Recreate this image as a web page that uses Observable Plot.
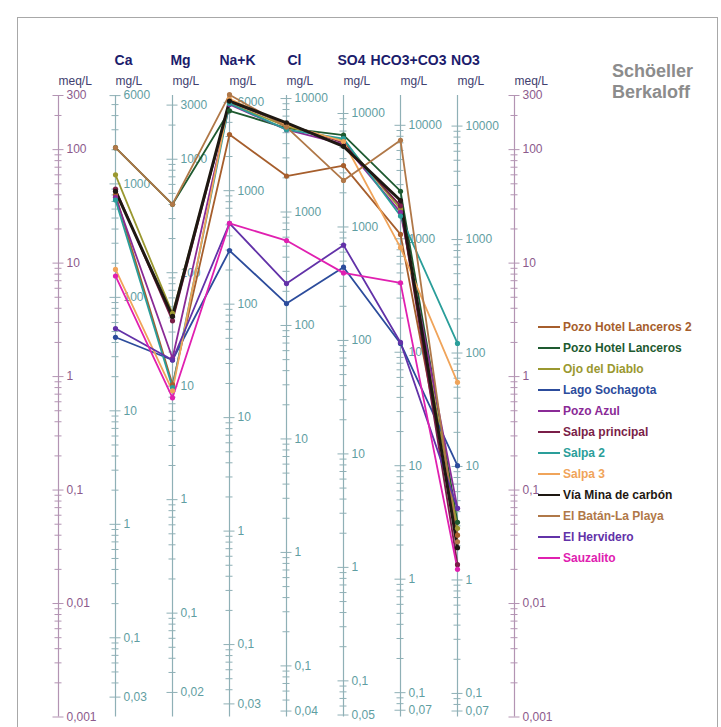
<!DOCTYPE html>
<html><head><meta charset="utf-8">
<script src="https://cdn.jsdelivr.net/npm/d3@7"></script>
<script src="https://cdn.jsdelivr.net/npm/@observablehq/plot@0.6"></script>
<style>
body{margin:0;background:#fff;font-family:"Liberation Sans",Arial,sans-serif;}
#wrap{position:relative;width:721px;height:727px;overflow:hidden;background:#fff;}
#frame{position:absolute;left:17px;top:17px;width:701px;height:730px;border:1px solid #a8a8a8;box-sizing:border-box;}
#chart{position:absolute;left:0;top:0;}
#title{position:absolute;left:612px;top:61px;font-weight:bold;font-size:18px;color:#8c8c8c;line-height:21px;}
#legend{position:absolute;left:538px;top:316px;}
.row{height:21px;display:flex;align-items:center;font-weight:bold;font-size:12px;white-space:nowrap;}
.sw{width:22px;height:2px;margin-right:3px;}
</style></head>
<body><div id="wrap"><div id="frame"></div><div id="chart"></div><div id="title">Schöeller<br>Berkaloff</div><div id="legend"></div></div>
<script>
// Ion columns and their equivalent weights (mg per meq)
const ions = ["Ca","Mg","Na+K","Cl","SO4","HCO3+CO3","NO3"];
const eqWeight = [20.04, 12.15, 23.0, 35.45, 48.03, 61.02, 62.0];
const topLabel = [6000, 3000, 6000, 10000, 10000, 10000, 10000];
const bottomLabel = [0.03, 0.02, 0.03, 0.04, 0.05, 0.07, 0.07];
const meqLabels = [300, 100, 10, 1, 0.1, 0.01, 0.001];

const samples = ["Pozo Hotel Lanceros 2","Pozo Hotel Lanceros","Ojo del Diablo","Lago Sochagota","Pozo Azul","Salpa principal","Salpa 2","Salpa 3","Vía Mina de carbón","El Batán-La Playa","El Hervidero","Sauzalito"];
const colors = ["#a65e2c","#1e5a30","#9a9830","#2c4c9c","#8a2a96","#7a1e48","#2a9e9a","#f0a45a","#1e1812","#b07848","#6232a8","#e020b0"];

// values in meq/L, order: Ca, Mg, Na+K, Cl, SO4, HCO3+CO3, NO3
const pozoHotelLanceros2 = [40, 0.85, 136, 58.5, 72.4, 17.9, 0.040];
const pozoHotelLanceros  = [104, 33, 220, 155, 134, 43, 0.052];
const ojoDelDiablo       = [60, 3.6, 255, 160, 120, 30, 0.046];
const lagoSochagota      = [2.22, 1.4, 12.9, 4.4, 9.2, 1.96, 0.164];
const pozoAzul           = [38, 1.45, 250, 150, 112, 28, 0.069];
const salpaPrincipal     = [45, 3.1, 265, 168, 115, 32, 0.022];
const salpa2             = [36, 0.8, 255, 150, 125, 26, 1.96];
const salpa3             = [8.8, 0.75, 280, 165, 118, 13.7, 0.89];
const viaMinaCarbon      = [43, 3.4, 268, 172, 107, 35.6, 0.031];
const elBatanLaPlaya     = [104, 33, 305, 158, 53.5, 121, 0.035];
const elHervidero        = [2.65, 1.4, 22.4, 6.6, 14.4, 2.0, 0.069];
const sauzalito          = [7.7, 0.65, 22.4, 15.8, 8.2, 6.7, 0.020];

const series = [pozoHotelLanceros2, pozoHotelLanceros, ojoDelDiablo, lagoSochagota, pozoAzul, salpaPrincipal, salpa2, salpa3, viaMinaCarbon, elBatanLaPlaya, elHervidero, sauzalito];

const columns = ["meqL", ...ions, "meqR"];
const fmt = v => String(v).replace(".", ",");
const clean = v => +v.toPrecision(6);

// build tick tables
const ionTicks = [], ionLabels = [], meqTicks = [], meqTickLabels = [];
ions.forEach((ion, i) => {
  for (let k = -3; k <= 4; k++) for (let m = 1; m <= 9; m++) {
    const v = clean(m * 10 ** k), meq = v / eqWeight[i];
    if (meq < 0.001 * 0.999 || meq > 300 * 1.001) continue;
    const labeled = m === 1 || v === topLabel[i] || v === bottomLabel[i];
    ionTicks.push({col: ion, meq, major: labeled});
    if (labeled) ionLabels.push({col: ion, meq, text: fmt(v)});
  }
});
["meqL","meqR"].forEach(col => {
  for (let k = -3; k <= 2; k++) for (let m = 1; m <= 9; m++) {
    const v = clean(m * 10 ** k);
    if (v > 300) continue;
    const labeled = meqLabels.includes(v);
    meqTicks.push({col, meq: v, major: labeled});
    if (labeled) meqTickLabels.push({col, meq: v, text: fmt(v)});
  }
});

const long = [];
samples.forEach((s, j) => ions.forEach((ion, i) => long.push({sample: s, ion, meq: series[j][i]})));
const thin = long.filter(d => d.sample !== "Vía Mina de carbón");
const thick = long.filter(d => d.sample === "Vía Mina de carbón");

const ionColor = "#8fb0b6", meqColor = "#b394b3";
const tickMark = (data, stroke, half) => Plot.ruleY(data, {x1: "col", x2: "col", y: "meq", stroke, insetLeft: -half, insetRight: -half, strokeWidth: 1});
const plot = Plot.plot({
  width: 721, height: 727,
  marginTop: 95, marginBottom: 10.5, marginLeft: 0, marginRight: 0,
  style: {fontFamily: "Liberation Sans, Arial, sans-serif", fontSize: "12px", background: "transparent"},
  x: {type: "point", domain: columns, range: [55, 517], padding: 0, axis: null},
  y: {type: "log", domain: [0.001, 300], axis: null},
  color: {domain: samples, range: colors},
  marks: [
    Plot.ruleX(ions, {x: d => d, y1: 0.001, y2: 300, stroke: ionColor, strokeWidth: 1.2}),
    Plot.ruleX(["meqL","meqR"], {x: d => d, y1: 0.001, y2: 300, stroke: meqColor, strokeWidth: 1.2}),
    tickMark(ionTicks.filter(d => !d.major), ionColor, 3.5),
    tickMark(ionTicks.filter(d => d.major), ionColor, 5.5),
    tickMark(meqTicks.filter(d => !d.major), meqColor, 3.5),
    tickMark(meqTicks.filter(d => d.major), meqColor, 5.5),
    Plot.text(ionLabels, {x: "col", y: "meq", text: "text", textAnchor: "start", dx: 8, fill: "#5f9ea2", fontSize: 12}),
    Plot.text(meqTickLabels, {x: "col", y: "meq", text: "text", textAnchor: "start", dx: 8, fill: "#8c5a8c", fontSize: 12}),
    Plot.text(ions, {x: d => d, text: d => d, frameAnchor: "top", dy: -40, dx: 8, fontWeight: "bold", fontSize: 14, fill: "#1c1c6c"}),
    Plot.text(columns, {x: d => d, text: d => d.startsWith("meq") ? "meq/L" : "mg/L", frameAnchor: "top", dy: -19, textAnchor: "start", fontSize: 12, fill: "#40406e"}),
    Plot.line(thin, {x: "ion", y: "meq", z: "sample", stroke: "sample", strokeWidth: 1.8}),
    Plot.line(thick, {x: "ion", y: "meq", z: "sample", stroke: "sample", strokeWidth: 3}),
    Plot.dot(long, {x: "ion", y: "meq", fill: "sample", r: 2.6})
  ]
});
document.getElementById("chart").appendChild(plot);

const legend = document.getElementById("legend");
samples.forEach((s, j) => {
  const row = document.createElement("div"); row.className = "row";
  const sw = document.createElement("span"); sw.className = "sw"; sw.style.background = colors[j];
  const t = document.createElement("span"); t.textContent = s; t.style.color = colors[j];
  row.appendChild(sw); row.appendChild(t); legend.appendChild(row);
});
</script>
</body></html>
